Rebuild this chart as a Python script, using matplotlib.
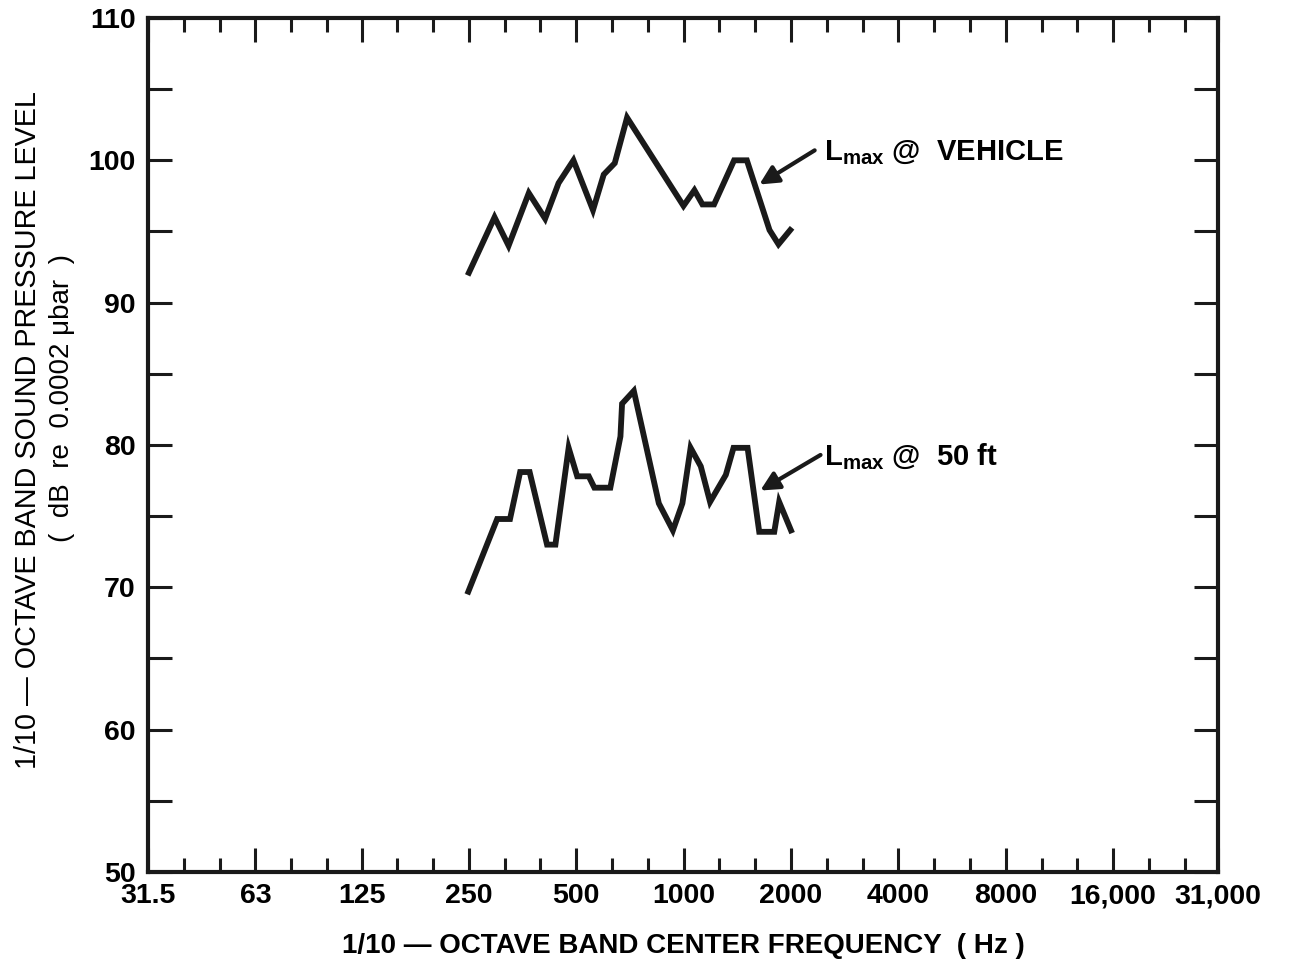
import numpy as np
import matplotlib
matplotlib.use("Agg")
import matplotlib.pyplot as plt
from matplotlib.ticker import FixedLocator, NullFormatter

plt.rcParams['font.family'] = ['Liberation Sans', 'DejaVu Sans']
plt.rcParams['mathtext.fontset'] = 'custom'
plt.rcParams['mathtext.rm'] = 'Liberation Sans'
plt.rcParams['mathtext.bf'] = 'Liberation Sans:bold'

# octave band ticks (Hz) and their printed labels
octave_ticks = [31.5, 63, 125, 250, 500, 1000, 2000, 4000, 8000, 16000, 31500]
octave_labels = ['31.5', '63', '125', '250', '500', '1000', '2000', '4000',
                 '8000', '16,000', '31,000']
spl_ticks = [50, 60, 70, 80, 90, 100, 110]

# Lmax @ vehicle
veh_freq = [250, 295, 323, 368, 409, 446, 491, 557, 597, 641, 694,
            999, 1072, 1129, 1217, 1385, 1504, 1741, 1845, 1990]
veh_spl = [92.1, 96.0, 94.0, 97.7, 95.9, 98.4, 100.0, 96.5, 99.0, 99.8, 103.0,
           96.8, 97.9, 96.9, 96.9, 100.0, 100.0, 95.1, 94.1, 95.1]

# Lmax @ 50 ft
ft50_freq = [249, 300, 326, 348, 370, 414, 437, 476, 503, 542, 562, 623,
             665, 672, 725, 852, 933, 992, 1046, 1117, 1186, 1313, 1380,
             1511, 1629, 1795, 1853, 2000]
ft50_spl = [69.7, 74.8, 74.8, 78.1, 78.1, 73.0, 73.0, 79.8, 77.8, 77.8, 77.0,
            77.0, 80.6, 82.9, 83.8, 75.9, 74.0, 75.9, 79.8, 78.5, 76.0, 77.9,
            79.8, 79.8, 73.9, 73.9, 76.0, 74.0]

# callouts: label, text anchor, arrow tail, arrow tip (freq, dB)
callouts = [
    (r'$\mathbf{L}_{\mathbf{max}}$ @  VEHICLE', (2480, 100.0), (2330, 100.7), (1630, 98.3)),
    (r'$\mathbf{L}_{\mathbf{max}}$ @  50 ft', (2480, 78.6), (2420, 79.3), (1640, 76.8)),
]

ink = '#1a1a1a'

fig = plt.figure(figsize=(12.94, 9.66), dpi=100)
ax = fig.add_axes([0.1144, 0.0973, 0.8269, 0.8841])

ax.plot(veh_freq, veh_spl, color=ink, lw=4.2, solid_joinstyle='miter')
ax.plot(ft50_freq, ft50_spl, color=ink, lw=4.2, solid_joinstyle='miter')

ax.set_xscale('log', base=2)
ax.set_xlim(31.5, 31500)
ax.set_ylim(50, 110)

minor = []
for lo in octave_ticks[:-1]:
    minor += [lo * 2 ** (1 / 3), lo * 2 ** (2 / 3)]
ax.xaxis.set_major_locator(FixedLocator(octave_ticks))
ax.xaxis.set_minor_locator(FixedLocator(minor))
ax.xaxis.set_minor_formatter(NullFormatter())
ax.set_xticklabels(octave_labels)
ax.set_yticks(spl_ticks)
ax.yaxis.set_minor_locator(FixedLocator([55, 65, 75, 85, 95, 105]))

ax.tick_params(axis='both', which='both', direction='in', top=True, right=True,
               width=2.2, color=ink, labelsize=20.5)
ax.tick_params(axis='x', which='major', length=17, pad=8)
ax.tick_params(axis='x', which='minor', length=10)
ax.tick_params(axis='y', which='both', length=17, pad=9)
for lab in ax.get_xticklabels() + ax.get_yticklabels():
    lab.set_fontweight('bold')
for sp in ax.spines.values():
    sp.set_linewidth(3)
    sp.set_color(ink)

ax.set_xlabel('1/10 \u2014 OCTAVE BAND CENTER FREQUENCY  ( Hz )',
              fontsize=20, fontweight='bold', labelpad=17)

fig.text(0.022, 0.555, '1/10 \u2014 OCTAVE BAND SOUND PRESSURE LEVEL',
         rotation=90, ha='center', va='center', fontsize=20.7)
fig.text(0.048, 0.588, '(  dB  re  0.0002 \u03bcbar  )',
         rotation=90, ha='center', va='center', fontsize=20)

for label, txt_xy, tail, tip in callouts:
    ax.text(txt_xy[0], txt_xy[1], label, fontsize=21, fontweight='bold',
            ha='left', va='baseline')
    ax.annotate('', xy=tip, xytext=tail,
                arrowprops=dict(arrowstyle='-|>', color=ink, lw=3,
                                mutation_scale=28, shrinkA=0, shrinkB=0))

fig.savefig('out.png', dpi=100)
